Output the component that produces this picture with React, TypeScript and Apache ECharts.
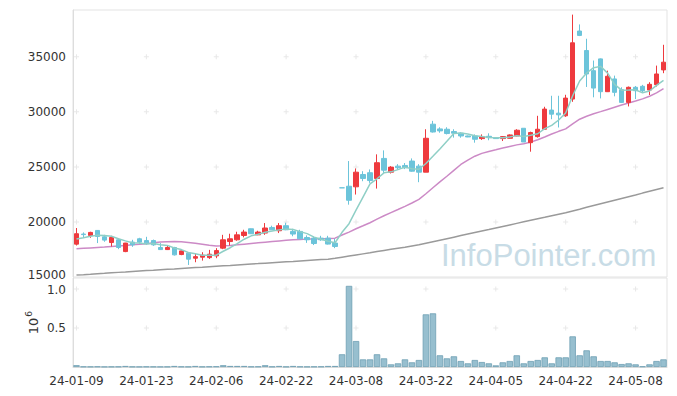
import React, { useEffect, useRef } from 'react';
import * as echarts from 'echarts';

const dates = [
  '24-01-09','24-01-10','24-01-11','24-01-12','24-01-15','24-01-16','24-01-17','24-01-18','24-01-19','24-01-22',
  '24-01-23','24-01-24','24-01-25','24-01-26','24-01-29','24-01-30','24-01-31','24-02-01','24-02-02','24-02-05',
  '24-02-06','24-02-07','24-02-08','24-02-13','24-02-14','24-02-15','24-02-16','24-02-19','24-02-20','24-02-21',
  '24-02-22','24-02-23','24-02-26','24-02-27','24-02-28','24-02-29','24-03-04','24-03-05','24-03-06','24-03-07',
  '24-03-08','24-03-11','24-03-12','24-03-13','24-03-14','24-03-15','24-03-18','24-03-19','24-03-20','24-03-21',
  '24-03-22','24-03-25','24-03-26','24-03-27','24-03-28','24-03-29','24-04-01','24-04-02','24-04-03','24-04-04',
  '24-04-05','24-04-08','24-04-09','24-04-11','24-04-12','24-04-15','24-04-16','24-04-17','24-04-18','24-04-19',
  '24-04-22','24-04-23','24-04-24','24-04-25','24-04-26','24-04-29','24-04-30','24-05-02','24-05-03','24-05-07',
  '24-05-08','24-05-09','24-05-10','24-05-13','24-05-14'
];

const opens = [
  17985, 18900, 18770, 19230, 18650, 18130, 18380, 17310, 18170, 18470,
  18310, 18310, 17680, 17490, 17680, 17040, 17165, 16710, 16800, 16760,
  16920, 17620, 18220, 18380, 18770, 19380, 18830, 18990, 19500, 19200,
  19660, 19140, 19140, 18590, 18530, 18530, 18530, 18080, 23100, 23245,
  23190, 24310, 24470, 23950, 25770, 24520, 25070, 25130, 25530, 25070,
  24520, 28880, 28450, 28420, 28210, 28060, 27810, 27810, 27570, 27780,
  27660, 27570, 27600, 27810, 28510, 27200, 27750, 28420, 30160, 29880,
  29640, 31160, 37340, 35570, 33740, 34810, 31830, 32990, 32010, 30860,
  32230, 32320, 31980, 32470, 33810
];

const closes = [
  18930, 18850, 19050, 18680, 18350, 18590, 17680, 18080, 17920, 18170,
  18100, 17920, 17490, 17680, 17010, 17370, 16620, 16850, 16980, 17070,
  17400, 18380, 18470, 18830, 19080, 18930, 19080, 19450, 19290, 19660,
  19290, 18900, 18470, 18380, 18040, 18380, 17990, 17770, 23100, 21970,
  24520, 23950, 23760, 25380, 24700, 24980, 24920, 24920, 24610, 24520,
  27600, 28170, 28270, 28030, 28060, 27810, 27720, 27510, 27720, 27660,
  27570, 27750, 27900, 28330, 27260, 28120, 28420, 30250, 29790, 29730,
  31250, 36270, 36940, 33440, 32160, 31830, 33230, 31770, 30860, 32230,
  31920, 31920, 32500, 33440, 34510
];

const highs = [
  19450, 19050, 19110, 19250, 18830, 18740, 18520, 18100, 18380, 18560,
  18650, 18400, 18080, 17875, 17740, 17400, 17200, 17165, 17250, 17465,
  17620, 18830, 18930, 19110, 19290, 19400, 19200, 19900, 19660, 19900,
  19930, 19380, 19290, 18780, 18680, 18740, 18740, 18470, 23100, 25530,
  24860, 24610, 24770, 26140, 26500, 25070, 25250, 25350, 25770, 25250,
  28420, 29180, 28600, 28600, 28420, 28150, 27850, 27950, 27950, 28050,
  27700, 27800, 27950, 28420, 28510, 28200, 29640, 30460, 31460, 31460,
  31550, 38830, 37940, 36640, 34660, 34850, 33740, 33290, 32230, 32300,
  32350, 32450, 32690, 34200, 36090
];

const lows = [
  17860, 18550, 18560, 18080, 18200, 17770, 17530, 17255, 17740, 18010,
  17920, 17830, 17450, 17450, 16950, 16980, 16095, 16340, 16490, 16640,
  16710, 17530, 17860, 18290, 18600, 18900, 18800, 18830, 19250, 18990,
  19250, 18700, 18450, 18100, 17900, 18290, 17950, 17620, 23100, 21570,
  22490, 23700, 23550, 23030, 24380, 24400, 24740, 24800, 24560, 23610,
  24520, 28120, 28100, 27950, 27660, 27650, 27700, 27200, 27450, 27420,
  27540, 27350, 27570, 27780, 27260, 26380, 27660, 28400, 29330, 28580,
  29545, 30910, 36880, 32260, 31320, 31220, 31800, 31410, 30800, 30490,
  31160, 31800, 31530, 32300, 33510
];

const ma5 = [
  18450, 18560, 18700, 18790, 18770, 18700, 18470, 18280, 18120, 18090,
  17990, 18040, 17920, 17870, 17640, 17490, 17230, 17110, 16970, 16980,
  16980, 17340, 17660, 18030, 18430, 18740, 18880, 19070, 19170, 19280,
  19350, 19320, 19120, 18940, 18620, 18430, 18250, 18110, 19060, 19840,
  21070, 22260, 23460, 23920, 24460, 24550, 24750, 24980, 24830, 24790,
  25310, 25960, 26630, 27320, 28030, 28070, 27980, 27830, 27760, 27680,
  27640, 27640, 27720, 27840, 27760, 27870, 28010, 28480, 28770, 29260,
  29890, 31460, 32800, 33530, 34010, 34130, 33520, 32490, 31970, 31980,
  32000, 31740, 31890, 32400, 32860
];

const ma20 = [
  17560, 17600, 17640, 17680, 17720, 17770, 17820, 17870, 17920, 17970,
  18030, 18100, 18170, 18210, 18220, 18200, 18140, 18060, 17970, 17880,
  17820, 17830, 17870, 17920, 17980, 18040, 18100, 18160, 18220, 18280,
  18330, 18380, 18410, 18440, 18460, 18480, 18500, 18530, 18810, 19080,
  19380, 19650, 19930, 20260, 20560, 20850, 21130, 21420, 21720, 22050,
  22560, 23110, 23640, 24150, 24690, 25220, 25620, 25970, 26230, 26400,
  26550, 26710, 26860, 27000, 27100, 27250, 27460, 27720, 27990, 28230,
  28450, 28900, 29330, 29600, 29830, 30020, 30220, 30420, 30620, 30800,
  30980, 31180, 31420, 31720, 32100
];

const maLong = [
  15180, 15215, 15255, 15300, 15335, 15380, 15420, 15455, 15500, 15540,
  15580, 15615, 15660, 15700, 15735, 15780, 15820, 15860, 15895, 15940,
  15980, 16020, 16055, 16100, 16140, 16180, 16215, 16260, 16300, 16340,
  16380, 16415, 16460, 16500, 16540, 16580, 16620, 16700, 16800, 16900,
  17000, 17100, 17200, 17310, 17410, 17510, 17610, 17710, 17820, 17920,
  18060, 18200, 18340, 18480, 18620, 18760, 18900, 19040, 19180, 19310,
  19450, 19590, 19730, 19870, 20010, 20150, 20290, 20420, 20560, 20700,
  20840, 21000, 21160, 21330, 21490, 21650, 21810, 21970, 22130, 22290,
  22450, 22620, 22780, 22940, 23100
];

const volumes = [
  23000, 5000, 4000, 6000, 3000, 4000, 5000, 13000, 4000, 3000,
  5000, 4000, 3000, 4000, 13000, 5000, 4000, 13000, 4000, 6000,
  8000, 23000, 13000, 13000, 13000, 5000, 6000, 23000, 5000, 13000,
  4000, 13000, 5000, 4000, 5000, 6000, 13000, 13000, 163000, 1040000,
  333000, 98000, 98000, 163000, 111000, 34000, 47000, 98000, 60000, 90000,
  675000, 688000, 150000, 111000, 137000, 77000, 47000, 90000, 64000, 47000,
  21000, 60000, 77000, 150000, 47000, 77000, 90000, 124000, 47000, 124000,
  124000, 393000, 150000, 214000, 137000, 77000, 77000, 60000, 38000, 47000,
  34000, 8000, 34000, 77000, 98000
];

const priceTicks = [20000, 25000, 30000, 35000];
const volumeTicks = [500000, 1000000];
const dateTickStep = 10;

const UP = '#ee3a3e';
const DOWN = '#6cc4da';
const FONT = 'DejaVu Sans';

export default function App() {
  const ref = useRef<HTMLDivElement>(null);

  useEffect(() => {
    document.body.style.margin = '0';
    const chart = echarts.init(ref.current!, null, { renderer: 'svg' });

    const candleData = dates.map((_, i) => {
      const value = [opens[i], closes[i], lows[i], highs[i]];
      if (opens[i] === closes[i]) {
        return { value, itemStyle: { color: DOWN, borderColor: DOWN, color0: DOWN, borderColor0: DOWN } };
      }
      return value;
    });

    const tickIdx: number[] = [];
    for (let i = 0; i < dates.length; i += dateTickStep) tickIdx.push(i);
    const plusPrice: number[][] = [];
    tickIdx.forEach((i) => priceTicks.forEach((v) => plusPrice.push([i, v])));
    const plusVol: number[][] = [];
    tickIdx.forEach((i) => volumeTicks.forEach((v) => plusVol.push([i, v])));
    const plusSymbol = 'path://M0,2h5v1h-5zM2,0h1v5h-1z';

    chart.setOption({
      animation: false,
      backgroundColor: '#ffffff',
      textStyle: { fontFamily: FONT },
      grid: [
        { left: 73, top: 10, width: 594, height: 267, show: true, borderColor: '#e3e3e3', borderWidth: 1 },
        { left: 73, top: 278, width: 594, height: 89, show: true, borderColor: '#e3e3e3', borderWidth: 1 },
      ],
      xAxis: [
        {
          type: 'category', gridIndex: 0, data: dates, boundaryGap: true,
          axisLabel: { show: false }, axisTick: { show: false }, axisLine: { show: false }, splitLine: { show: false },
        },
        {
          type: 'category', gridIndex: 1, data: dates, boundaryGap: true,
          axisLabel: { interval: dateTickStep - 1, color: '#333', fontSize: 12, margin: 8, fontFamily: FONT },
          axisTick: { show: false }, axisLine: { lineStyle: { color: '#dddddd' } }, splitLine: { show: false },
        },
      ],
      yAxis: [
        {
          type: 'value', gridIndex: 0, min: 15000, max: 39250, interval: 5000,
          axisLabel: {
            color: '#333', fontSize: 12, margin: 7, fontFamily: FONT,
            formatter: (v: number) => (v === 15000 ? '{lo|15000}' : v % 5000 === 0 ? String(v) : ''),
            rich: { lo: { color: '#333', fontSize: 12, fontFamily: FONT, padding: [0, 0, 5, 0] } },
          },
          axisTick: { show: false }, axisLine: { show: true, lineStyle: { color: '#dddddd' } },
          splitLine: { show: false },
        },
        {
          type: 'value', gridIndex: 1, min: 0, max: 1141000, interval: 500000,
          axisLabel: {
            color: '#333', fontSize: 12, margin: 7, fontFamily: FONT,
            formatter: (v: number) => (v === 0 || v % 500000 !== 0 ? '' : v === 1000000 ? '{hi|1.0}' : (v / 1e6).toFixed(1)),
            rich: { hi: { color: '#333', fontSize: 12, fontFamily: FONT, padding: [3, 0, 0, 0] } },
          },
          axisTick: { show: false }, axisLine: { show: true, lineStyle: { color: '#dddddd' } },
          splitLine: { show: false },
        },
      ],
      graphic: [
        {
          type: 'text', z: 0, silent: true,
          style: { x: 441, y: 255.5, text: 'InfoPointer.com', fill: '#c8dce6',
            font: '31px "Liberation Sans"', verticalAlign: 'middle', align: 'left' },
        },
        {
          type: 'text', silent: true, x: 33, y: 326, rotation: Math.PI / 2,
          style: { text: '10', fill: '#333', font: '13px "DejaVu Sans"', align: 'center', verticalAlign: 'middle' },
        },
        {
          type: 'text', silent: true, x: 29, y: 314, rotation: Math.PI / 2,
          style: { text: '6', fill: '#333', font: '9px "DejaVu Sans"', align: 'center', verticalAlign: 'middle' },
        },
      ],
      series: [
        {
          type: 'scatter', xAxisIndex: 0, yAxisIndex: 0, data: plusPrice, symbol: plusSymbol,
          symbolSize: 5, itemStyle: { color: '#e2e2e2' }, silent: true, z: 1,
        },
        {
          type: 'scatter', xAxisIndex: 1, yAxisIndex: 1, data: plusVol, symbol: plusSymbol,
          symbolSize: 5, itemStyle: { color: '#e2e2e2' }, silent: true, z: 1,
        },
        {
          type: 'line', xAxisIndex: 0, yAxisIndex: 0, data: maLong, showSymbol: false, smooth: false,
          lineStyle: { color: '#9a9a9a', width: 1.5 }, z: 2, silent: true,
        },
        {
          type: 'line', xAxisIndex: 0, yAxisIndex: 0, data: ma20, showSymbol: false, smooth: false,
          lineStyle: { color: '#cc8ac6', width: 1.5 }, z: 2, silent: true,
        },
        {
          type: 'candlestick', xAxisIndex: 0, yAxisIndex: 0, data: candleData, barWidth: 5,
          itemStyle: { color: UP, color0: DOWN, borderColor: UP, borderColor0: DOWN, borderWidth: 1 },
          z: 3, silent: true,
        },
        {
          type: 'line', xAxisIndex: 0, yAxisIndex: 0, data: ma5, showSymbol: false, smooth: false,
          lineStyle: { color: '#8fcfc6', width: 1.5 }, z: 4, silent: true,
        },
        {
          type: 'bar', xAxisIndex: 1, yAxisIndex: 1, data: volumes, barCategoryGap: '8%',
          itemStyle: { color: '#97bfcf', borderColor: '#6f9fb4', borderWidth: 0.8 }, z: 2, silent: true,
        },
      ],
    });

    return () => chart.dispose();
  }, []);

  return <div ref={ref} style={{ width: 677, height: 396 }} />;
}
